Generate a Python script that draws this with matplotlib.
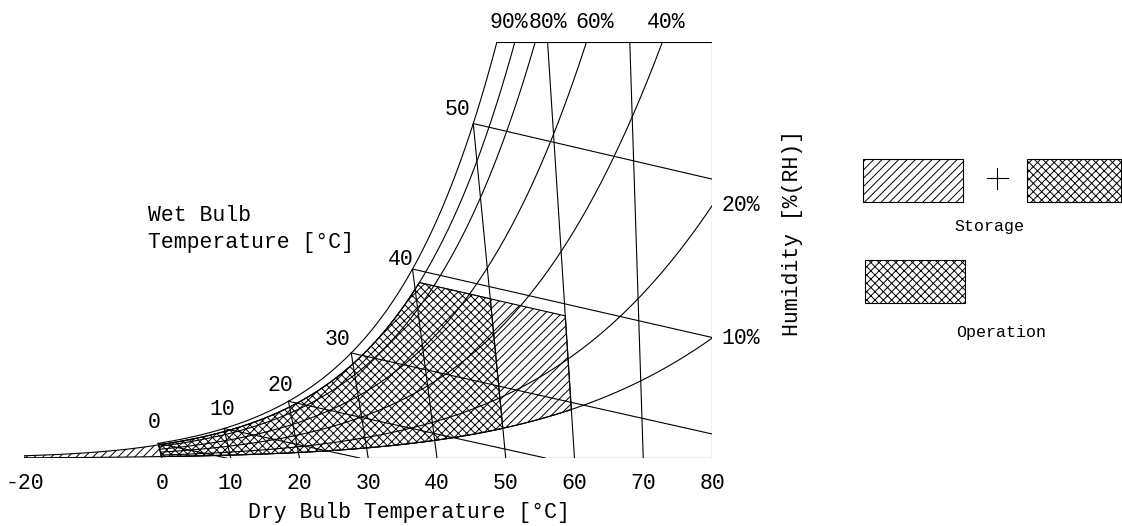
import numpy as np
import matplotlib
matplotlib.use("Agg")
import matplotlib.pyplot as plt
from matplotlib.patches import Polygon, Rectangle

plt.rcParams["font.family"] = ["Liberation Mono", "DejaVu Sans Mono"]
plt.rcParams["hatch.linewidth"] = 0.7
plt.rcParams["axes.unicode_minus"] = False

# ---------------- data ----------------
x_ticks = [-20, 0, 10, 20, 30, 40, 50, 60, 70, 80]
x_tick_labels = ["-20", "0", "10", "20", "30", "40", "50", "60", "70", "80"]
dry_bulb_lines = [0, 10, 20, 30, 40, 50, 60, 70]          # deg C
wet_bulb_lines = [0, 10, 20, 30, 40, 50]                  # deg C
rh_lines = [100, 90, 80, 60, 40, 20, 10]                  # % RH
rh_top_labels = [90, 80, 60, 40]
rh_side_labels = [20, 10]
storage_t = (-20, 60)
operation_t = (0, 50)
rh_limits = (10, 90)
wet_bulb_max = 39
w_top = 107.5          # humidity ratio at top of chart, g/kg
pressure = 101.325     # kPa
t_right = 80

# ---------------- layout / style ----------------
SKEW = 0.00182
rh_top_label_x = [50.5, 56.2, 62.9, 73.3]
wb_label_offsets = [(-4, 21), (-2, 19), (-8, 16), (-14, 13), (-12, 10), (-16, 14)]
LW = 0.8
FS = 15.5


def p_ws(t):
    t = np.asarray(t, dtype=float)
    water = 0.61094 * np.exp(17.625 * t / (t + 243.04))
    ice = 0.61115 * np.exp(22.452 * t / (272.55 + t))
    return np.where(t < 0, ice, water)


def w_rh(t, rh):
    pv = p_ws(t) * rh / 100.0
    return 622.0 * pv / (pressure - pv)


def t_at_w(rh, w):
    pv = w * pressure / (622.0 + w)
    pws = pv / (rh / 100.0)
    L = np.log(pws / 0.61094)
    return 243.04 * L / (17.625 - L)


def w_wb(t, twb):
    ws = w_rh(twb, 100) / 1000.0
    num = (2501 - 2.326 * twb) * ws - 1.006 * (t - twb)
    den = 2501 + 1.86 * t - 4.186 * twb
    return 1000.0 * num / den


def chart_x(t, w):
    return t_right + (np.asarray(t) - t_right) * (1 + SKEW * np.asarray(w))


W, H = 1122, 526
fig = plt.figure(figsize=(W / 100, H / 100), dpi=100)
ax = fig.add_axes([24.4 / W, 68 / H, 687.6 / W, 416 / H])
ax.set_xlim(-20, 80)
ax.set_ylim(0, w_top)
for s in ax.spines.values():
    s.set_visible(False)
ax.set_yticks([])
ax.set_xticks(x_ticks)
ax.set_xticklabels(x_tick_labels, fontsize=FS)
ax.tick_params(axis="x", length=0, pad=10.5)

# ---------------- regions ----------------
def region(t_lo, t_hi):
    t = np.linspace(t_lo, t_hi, 400)
    lower = w_rh(t, rh_limits[0])
    upper = np.minimum(w_rh(t, rh_limits[1]), w_wb(t, wet_bulb_max))
    xs = np.concatenate([chart_x(t, lower), chart_x(t[::-1], upper[::-1])])
    ys = np.concatenate([lower, upper[::-1]])
    return np.column_stack([xs, ys])

ax.add_patch(Polygon(region(*storage_t), closed=True, facecolor="none",
                     edgecolor="black", hatch="////", lw=LW, zorder=2))
ax.add_patch(Polygon(region(*operation_t), closed=True, facecolor="white",
                     edgecolor="black", hatch="xxxx", lw=LW, zorder=3))

# ---------------- frame ----------------
t_sat_top = t_at_w(100, w_top)
ax.plot([-20, 80], [0, 0], color="black", lw=LW, zorder=5)
ax.plot([80, 80], [0, w_top], color="black", lw=LW, zorder=5)
ax.plot([chart_x(t_sat_top, w_top), 80], [w_top, w_top], color="black", lw=LW, zorder=5)

# ---------------- RH curves ----------------
rh_end = {}
for rh in rh_lines:
    t_end = min(t_right, float(t_at_w(rh, w_top)))
    t = np.linspace(0, t_end, 400)
    w = w_rh(t, rh)
    x = chart_x(t, w)
    ax.plot(x, w, color="black", lw=LW, zorder=5)
    rh_end[rh] = (x[-1], w[-1])

for rh, lx in zip(rh_top_labels, rh_top_label_x):
    ax.annotate(f"{rh}%", (lx, w_top), xytext=(0, 20), textcoords="offset pixels",
                ha="center", va="center", fontsize=FS)
for rh in rh_side_labels:
    ax.annotate(f"{rh}%", rh_end[rh], xytext=(9, 0), textcoords="offset pixels",
                ha="left", va="center", fontsize=FS)

# ---------------- dry bulb lines ----------------
for t in dry_bulb_lines:
    wmax = min(float(w_rh(t, 100)), w_top)
    ax.plot([t, chart_x(t, wmax)], [0, wmax], color="black", lw=LW, zorder=5)

# ---------------- wet bulb lines ----------------
for twb, off in zip(wet_bulb_lines, wb_label_offsets):
    ws = w_rh(twb, 100) / 1000.0
    t0 = twb + (2501 - 2.326 * twb) * ws / 1.006
    t_end = min(t_right, t0)
    t = np.linspace(twb, t_end, 60)
    w = np.maximum(w_wb(t, twb), 0)
    ax.plot(chart_x(t, w), w, color="black", lw=LW, zorder=5)
    ax.annotate(str(twb), (chart_x(twb, w[0]), w[0]), xytext=off,
                textcoords="offset pixels", ha="center", va="center", fontsize=FS)

# ---------------- texts ----------------
ax.set_xlabel("Dry Bulb Temperature [°C]", fontsize=FS)
ax.xaxis.label.set_va("center")
ax.xaxis.set_label_coords(0.559, -0.132)
ax.yaxis.set_label_position("right")
ax.set_ylabel("Humidity [%(RH)]", fontsize=FS, rotation=90)
ax.yaxis.label.set_va("center")
ax.yaxis.set_label_coords(1.117, 0.541)

# ---------------- legend (pixel coordinates) ----------------
lg = fig.add_axes([0, 0, 1, 1])
lg.set_xlim(0, W)
lg.set_ylim(H, 0)
lg.axis("off")
lg.patch.set_alpha(0)
lg.text(148, 229, "Wet Bulb\nTemperature [°C]", fontsize=FS, ha="left", va="center",
        linespacing=1.35)
lg.add_patch(Rectangle((863, 159), 100, 43, facecolor="white", edgecolor="black",
                       hatch="////", lw=LW))
lg.add_patch(Rectangle((1027, 159), 94, 43, facecolor="white", edgecolor="black",
                       hatch="xxxx", lw=LW))
lg.plot([987, 1008], [178, 178], color="black", lw=LW)
lg.plot([997.5, 997.5], [168, 189], color="black", lw=LW)
lg.text(989, 227, "Storage", fontsize=12, ha="center", va="center")
lg.add_patch(Rectangle((865, 260), 100, 43, facecolor="white", edgecolor="black",
                       hatch="xxxx", lw=LW))
lg.text(1001, 333, "Operation", fontsize=12, ha="center", va="center")

fig.savefig("out.png", dpi=100)
